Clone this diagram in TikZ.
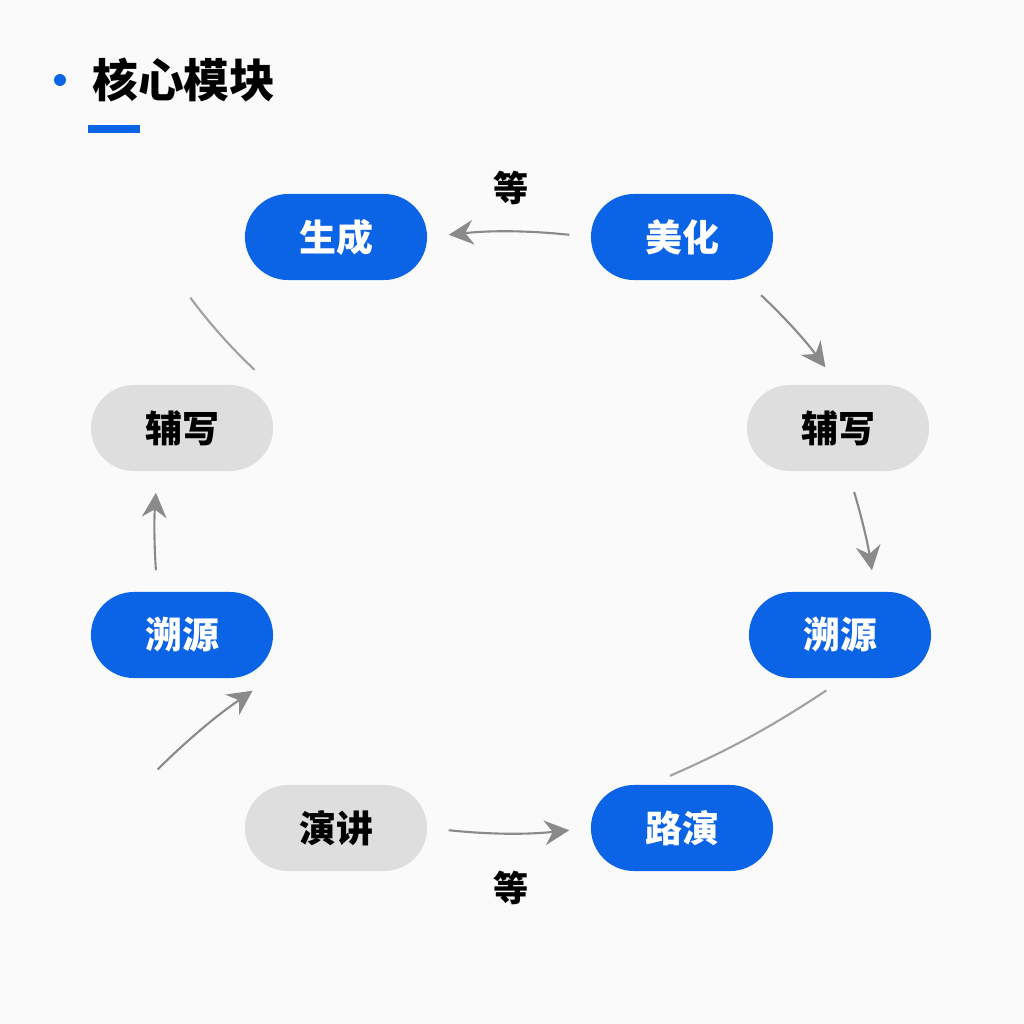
\documentclass[tikz,border=0pt]{standalone}
\usepackage{fontspec}
\newfontfamily\cjk{Noto Sans CJK SC}
\usetikzlibrary{arrows.meta}
\definecolor{modblue}{HTML}{0B63E6}
\definecolor{modgray}{HTML}{DEDEDE}
\definecolor{linegray}{HTML}{8A8A8A}
\tikzset{
  pill/.style={minimum width=1.82cm, minimum height=0.86cm, rounded corners=0.43cm, font=\cjk\bfseries\fontsize{10.5}{12}\selectfont, inner sep=0pt},
  bluepill/.style={pill, fill=modblue, text=white},
  graypill/.style={pill, fill=modgray, text=black},
  flow/.style={draw=linegray, line width=0.6pt, -{Stealth[length=7pt,width=7pt]}, shorten <=6pt, shorten >=6pt},
  link/.style={draw=linegray!80, line width=0.6pt, shorten <=6pt, shorten >=6pt}
}
\begin{document}
\begin{tikzpicture}[x=0.01cm, y=-0.01cm]
  \fill[white!96!black!40] (0,0) rectangle (1024,1024);
  \fill[white!98!black] (20,20) rectangle (1004,1004);
  % title
  \fill[modblue] (60,80) circle (6);
  \node[anchor=west, font=\cjk\bfseries\fontsize{13}{15}\selectfont] (title) at (80,80) {核心模块};
  \draw[modblue, line width=2.5pt] (88,129) -- (140,129);
  % modules
  \node[bluepill] (gen) at (336,237) {生成};
  \node[bluepill] (beau) at (682,237) {美化};
  \node[graypill] (assl) at (182,428) {辅写};
  \node[graypill] (assr) at (838,428) {辅写};
  \node[bluepill] (tracel) at (182,635) {溯源};
  \node[bluepill] (tracer) at (840,635) {溯源};
  \node[graypill] (talk) at (336,828) {演讲};
  \node[bluepill] (road) at (682,828) {路演};
  \node[font=\cjk\bfseries\fontsize{10}{12}\selectfont] (etctop) at (511,188) {等};
  \node[font=\cjk\bfseries\fontsize{10}{12}\selectfont] (etcbot) at (511,888) {等};
  % connectors
  \draw[flow] (beau.west) to[bend right=6] (gen.east);
  \draw[flow] (beau.south east) ++(-28,0) coordinate (b1) (b1) to[bend left=5] (assr.north);
  \draw[flow] (assr.south) ++(10,0) coordinate (a1) (a1) to[bend left=4] ([xshift=10]tracer.north);
  \draw[link] ([xshift=-25]tracer.south east) to[bend left=5] ([xshift=-35]road.north east);
  \draw[flow] (talk.east) to[bend right=6] (road.west);
  \draw[flow] ([xshift=-55]talk.north) to[bend left=5] ([xshift=25]tracel.south);
  \draw[flow] ([xshift=-7]tracel.north) to[bend left=4] ([xshift=-7]assl.south);
  \draw[link] ([xshift=25]assl.north) to[bend left=5] ([xshift=-45]gen.south);
\end{tikzpicture}
\end{document}
